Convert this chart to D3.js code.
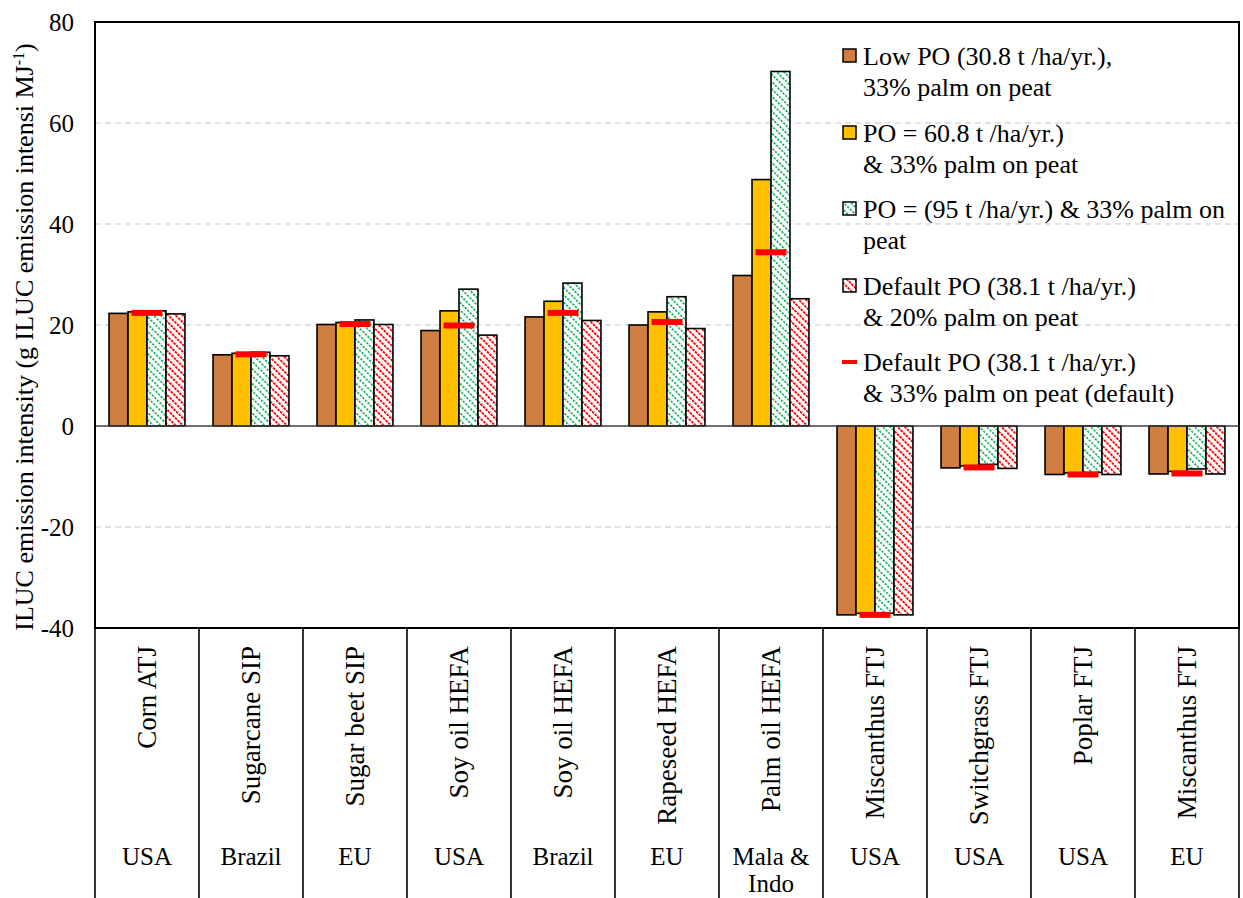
<!DOCTYPE html>
<html>
<head>
<meta charset="utf-8">
<script src="https://cdn.jsdelivr.net/npm/d3@7"></script>
<style>
  html, body { margin: 0; padding: 0; background: #fff; }
  svg text { font-family: "Liberation Serif", "Times New Roman", serif; fill: #000; }
</style>
</head>
<body>
<svg id="chart" width="1243" height="898"></svg>
<script>
// ---------- DATA ----------
const feedstocks = ["Corn ATJ", "Sugarcane SIP", "Sugar beet SIP", "Soy oil HEFA", "Soy oil HEFA",
  "Rapeseed HEFA", "Palm oil HEFA", "Miscanthus FTJ", "Switchgrass FTJ", "Poplar FTJ", "Miscanthus FTJ"];
const regions = [["USA"], ["Brazil"], ["EU"], ["USA"], ["Brazil"], ["EU"], ["Mala &", "Indo"],
  ["USA"], ["USA"], ["USA"], ["EU"]];
const lowPO      = [22.3, 14.1, 20.1, 18.9, 21.6, 20.0, 29.8, -37.4, -8.3, -9.6, -9.5];
const po608      = [22.6, 14.4, 20.5, 22.8, 24.7, 22.6, 48.8, -37.1, -7.9, -9.3, -9.0];
const po95       = [22.8, 14.6, 21.0, 27.1, 28.3, 25.6, 70.2, -37.1, -7.6, -9.2, -8.5];
const default20  = [22.2, 13.9, 20.1, 18.0, 20.9, 19.3, 25.2, -37.4, -8.4, -9.6, -9.5];
const default33  = [22.4, 14.2, 20.2, 19.9, 22.4, 20.6, 34.4, -37.4, -8.2, -9.6, -9.4];
const yTicks = [-40, -20, 0, 20, 40, 60, 80];
const seriesNames = ["Low PO (30.8 t /ha/yr.),|33% palm on peat",
  "PO = 60.8 t /ha/yr.)|& 33% palm on peat",
  "PO = (95 t /ha/yr.) & 33% palm on|peat",
  "Default PO (38.1 t /ha/yr.)|& 20% palm on peat",
  "Default PO (38.1 t /ha/yr.)|& 33% palm on peat (default)"];

// ---------- LAYOUT ----------
const svg = d3.select("#chart");
const L = 95, R = 1239, T = 22, B = 628, H = 898;

const seriesKeys = ["low", "po608", "po95", "def20"];
const seriesVals = { low: lowPO, po608: po608, po95: po95, def20: default20 };
const fills = { low: "#D07D42", po608: "#FFC000", po95: "url(#patGreen)", def20: "url(#patRed)" };

const y = d3.scaleLinear().domain([-40, 80]).range([B, T]);
const x0 = d3.scaleBand().domain(d3.range(feedstocks.length)).range([L, R])
  .paddingInner(0.27).paddingOuter(0.135);
const x1 = d3.scaleBand().domain(seriesKeys).range([0, x0.bandwidth()]);

// patterns
const defs = svg.append("defs");
function mkPattern(id, color, w, dashH, period, spacing) {
  const p = defs.append("pattern").attr("id", id).attr("patternUnits", "userSpaceOnUse")
    .attr("width", spacing).attr("height", period).attr("patternTransform", "rotate(-45)");
  p.append("rect").attr("width", spacing).attr("height", period).attr("fill", "#fff");
  p.append("rect").attr("x", 0).attr("y", 0).attr("width", w).attr("height", dashH).attr("fill", color);
}
mkPattern("patGreen", "#00A650", 1.6, 2.2, 3.6, 5.2);
mkPattern("patRed", "#FF0000", 1.9, 2.6, 3.6, 5.2);

// gridlines
svg.append("g").selectAll("line").data(yTicks.filter(t => t !== 0 && t !== 80 && t !== -40))
  .join("line")
  .attr("x1", L).attr("x2", R).attr("y1", d => y(d)).attr("y2", d => y(d))
  .attr("stroke", "#c6c6c6").attr("stroke-width", 1.2).attr("stroke-dasharray", "6,4");

// bars
const groups = svg.append("g").selectAll("g").data(d3.range(feedstocks.length)).join("g")
  .attr("transform", i => `translate(${x0(i)},0)`);
groups.selectAll("rect").data(i => seriesKeys.map(k => ({ k, v: seriesVals[k][i] }))).join("rect")
  .attr("x", d => x1(d.k)).attr("width", x1.bandwidth())
  .attr("y", d => y(Math.max(0, d.v))).attr("height", d => Math.abs(y(d.v) - y(0)))
  .attr("fill", d => fills[d.k]).attr("stroke", "#000").attr("stroke-width", 1.6);

// zero line
svg.append("line").attr("x1", L).attr("x2", R).attr("y1", y(0)).attr("y2", y(0))
  .attr("stroke", "#404040").attr("stroke-width", 1.5);

// default markers
const mW = 31;
svg.append("g").selectAll("rect").data(d3.range(feedstocks.length)).join("rect")
  .attr("x", i => x0(i) + x0.bandwidth() / 2 - mW / 2).attr("width", mW)
  .attr("y", i => y(default33[i]) - 3).attr("height", 6).attr("fill", "#FF0000");

// frame
svg.append("rect").attr("x", L).attr("y", T).attr("width", R - L).attr("height", B - T)
  .attr("fill", "none").attr("stroke", "#000").attr("stroke-width", 2);

// y tick labels
svg.append("g").selectAll("text").data(yTicks).join("text")
  .attr("x", 74).attr("y", d => y(d)).attr("dy", "0.35em").attr("text-anchor", "end")
  .attr("font-size", 25).text(d => d);

// y title
const yt = svg.append("text").attr("transform", `translate(33,${(T + B) / 2 + 12}) rotate(-90)`)
  .attr("text-anchor", "middle").attr("font-size", 26);
yt.append("tspan").text("ILUC emission intensity (g ILUC emission intensi MJ");
yt.append("tspan").attr("font-size", 16).attr("dy", -9).text("-1");
yt.append("tspan").attr("dy", 9).text(")");

// category table separators
const step = x0.step();
svg.append("g").selectAll("line").data(d3.range(feedstocks.length + 1)).join("line")
  .attr("x1", i => L + i * step).attr("x2", i => L + i * step)
  .attr("y1", B).attr("y2", H).attr("stroke", "#000").attr("stroke-width", 1.6);

// category labels (rotated)
svg.append("g").selectAll("text").data(feedstocks).join("text")
  .attr("transform", (d, i) => `translate(${L + (i + 0.5) * step + 9},646) rotate(-90)`)
  .attr("text-anchor", "end").attr("font-size", 27).text(d => d);

// region labels
svg.append("g").selectAll("text").data(regions).join("text")
  .attr("x", (d, i) => L + (i + 0.5) * step).attr("y", 865)
  .attr("text-anchor", "middle").attr("font-size", 25)
  .selectAll("tspan").data(d => d).join("tspan")
  .attr("x", function () { return this.parentNode.getAttribute("x"); })
  .attr("dy", (d, j) => j === 0 ? 0 : 27).text(d => d);

// legend
const legY = [56, 133, 209, 286, 362];
const leg = svg.append("g");
const legKeys = ["low", "po608", "po95", "def20", "def33"];
legKeys.forEach((k, i) => {
  const cy = legY[i];
  if (k === "def33") {
    leg.append("rect").attr("x", 842).attr("y", cy - 2).attr("width", 15).attr("height", 4).attr("fill", "#FF0000");
  } else {
    leg.append("rect").attr("x", 843).attr("y", cy - 7).attr("width", 13).attr("height", 13)
      .attr("fill", fills[k]).attr("stroke", "#000").attr("stroke-width", 1.5);
  }
  const lines = seriesNames[i].split("|");
  lines.forEach((t, j) => {
    leg.append("text").attr("x", 863).attr("y", cy + j * 31).attr("dy", "0.35em")
      .attr("font-size", 26).text(t);
  });
});
</script>
</body>
</html>
